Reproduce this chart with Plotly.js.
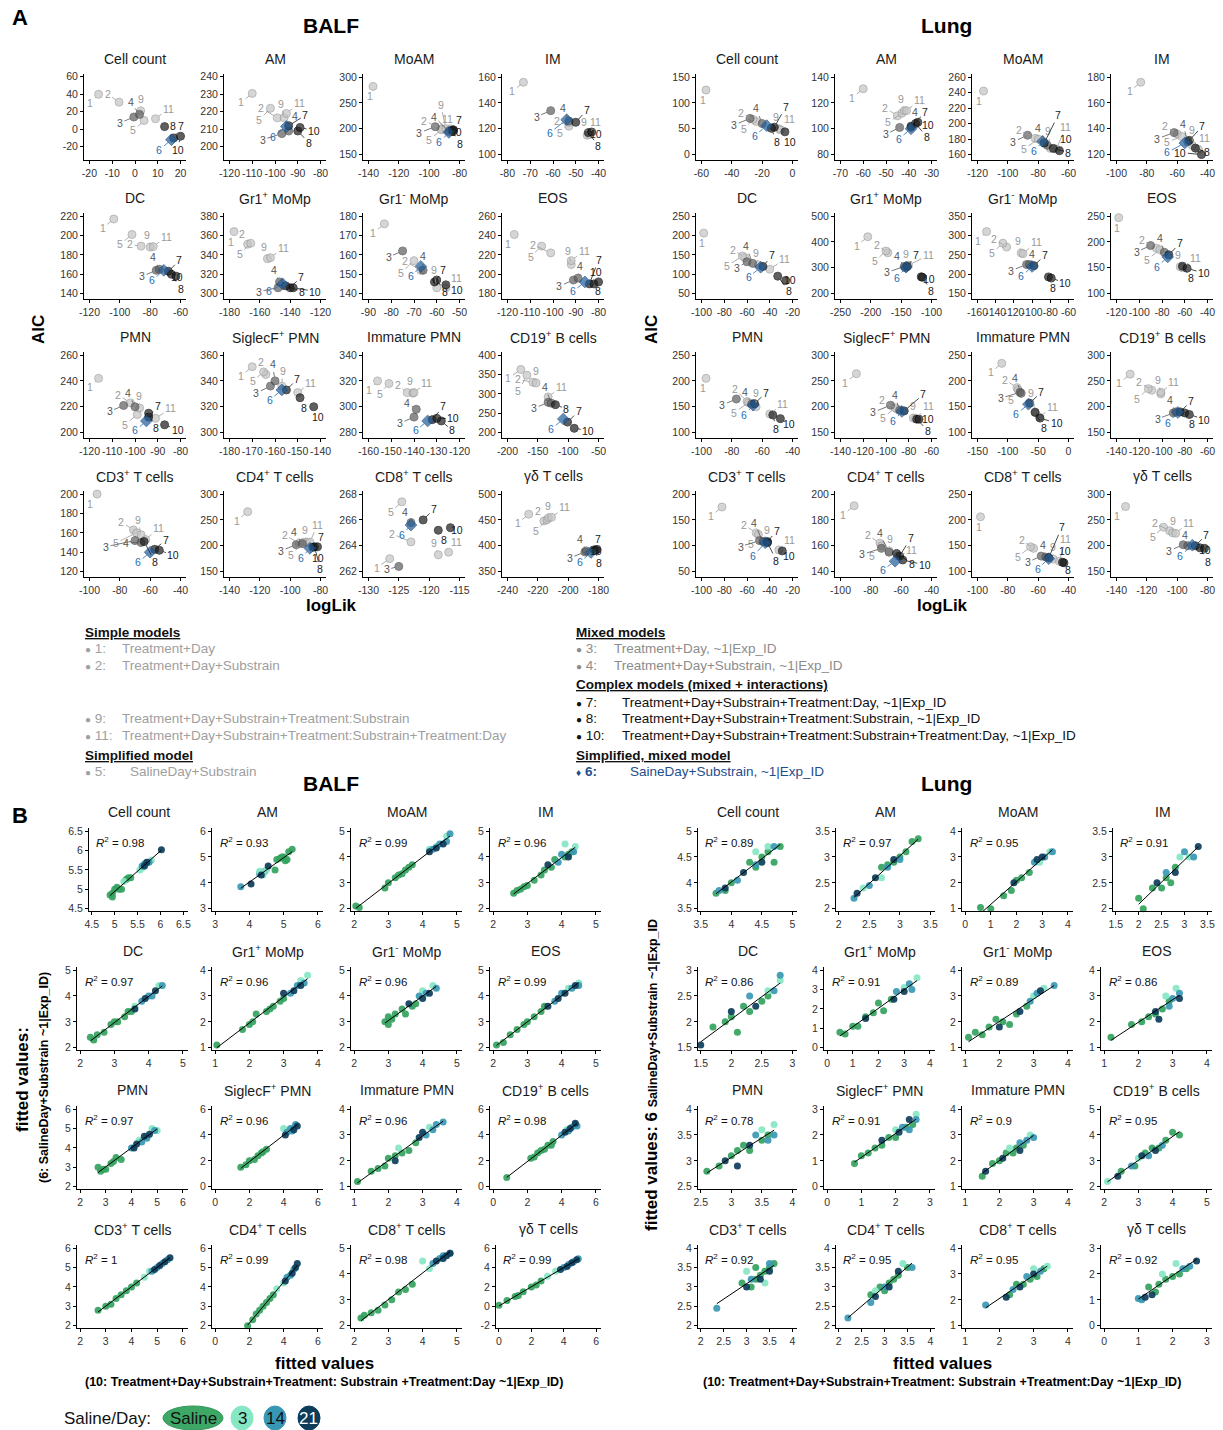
<!DOCTYPE html>
<html><head><meta charset="utf-8">
<script src="https://cdn.plot.ly/plotly-3.0.1.min.js"></script>
<style>body{margin:0;background:#fff}#fig{width:1223px;height:1430px}</style>
</head><body><div id="fig"></div>
<script>
// ---------------- DATA ----------------
const cellTypes = ["Cell count","AM","MoAM","IM","DC","Gr1<sup>+</sup> MoMp","Gr1<sup>-</sup> MoMp","EOS","PMN","SiglecF<sup>+</sup> PMN","Immature PMN","CD19<sup>+</sup> B cells","CD3<sup>+</sup> T cells","CD4<sup>+</sup> T cells","CD8<sup>+</sup> T cells","γδ T cells"];
const modelIds = [1,2,3,4,5,6,7,8,9,10,11];

// Panel A: logLik (x) and AIC (y), models 1..11
const balfLogLik = [
 [-16,-7,-0.5,2,4,16,17,13,2.5,20,9],
 [-110,-99,-97,-94,-102,-95,-94,-90,-96,-89,-95],
 [-137,-92,-96,-87,-92,-87,-84,-85,-89,-84,-86],
 [-73,-53,-61,-53,-53,-54,-50,-44.5,-45,-43,-44],
 [-104,-86,-76,-74,-92,-71,-68,-66,-80,-63,-78],
 [-177,-168,-148,-147,-166,-145,-140,-143,-155,-138,-153],
 [-83,-67,-75,-66,-70,-67,-61,-60,-60,-56,-56],
 [-117,-101,-91,-89,-105,-86,-84,-82,-92,-80,-92],
 [-116,-102,-105,-100,-99,-95,-94,-94,-98,-87,-91],
 [-170,-164,-162,-160,-165,-157,-155,-149,-157,-143,-150],
 [-156,-143,-140,-139,-151,-134,-132,-128,-140.5,-130,-140],
 [-178,-158,-133,-128,-168,-108,-101,-121,-153,-90,-133],
 [-95,-71,-70,-66,-69,-60,-57,-64,-66,-54,-63],
 [-128,-94,-96,-92,-91,-87,-85,-84,-89,-82,-87],
 [-126.5,-123,-125,-123,-124.5,-123,-121,-118.5,-118.5,-116.5,-116.8],
 [-226,-216,-189,-188,-214,-185,-183,-182,-213,-181,-211]
];
const balfAIC = [
 [40,31,14,17,10,-12,-10,3,21,-8,12],
 [230.5,216.5,207.5,209,222,211.5,212,209,216.5,211,219],
 [282,200,204,195,198,193,196,197,200,198,200],
 [156,122,134,126,125,127,125,117,115,117.5,115.5],
 [217,189,164,165,201,164,163,160,188,158,188.5],
 [364,351,306,312,352,310,306,308,336,306,337],
 [176,152,162,152,157,154,146,147,143,144.5,143],
 [241,222,194,196,229,192,190,190,210,192,214],
 [242,223,221,220,214,209,212,215,219,206,211],
 [351,345,336,340,347,333,333,327,336,320,331],
 [320,311,292,298,318,289,290,289,310.5,291,311],
 [363,330,278,276,348,235,227,272,328,211,292],
 [200,163,152,150,160,140,143,151,158,142,153],
 [266,205,202,204,207,195,197,198,207,198,207],
 [263,264.3,262.4,265.8,267.4,265.6,266,265.2,263.3,265.4,263.5],
 [461,448,388,390,450,387,392,391,454,393,455]
];
const lungLogLik = [
 [-57,-24,-28,-20,-26,-17,-12,-14,-9,-5,-8],
 [-60,-45,-44,-39,-43,-39,-39,-37,-42,-36,-41],
 [-116,-82,-87,-74,-80,-77,-76,-70,-72,-66,-68],
 [-84,-60,-62,-53,-57,-55,-52,-48,-50,-44,-46],
 [-98,-62,-60,-55,-64,-48,-46,-33,-50,-26,-40],
 [-205,-172,-145,-143,-175,-142,-140,-117,-140,-115,-138],
 [-150,-128,-106,-103,-132,-100,-98,-82,-112,-79,-110],
 [-118,-85,-90,-78,-82,-75,-74,-62,-64,-58,-62],
 [-97,-70,-77,-67,-69,-66,-65,-53,-64,-48,-55],
 [-126,-90,-96,-88,-92,-86,-84,-73,-76,-71,-74],
 [-110,-85,-80,-78,-83,-66,-64,-55,-55,-47,-48],
 [-128,-109,-90,-88,-112,-86,-84,-80,-101,-76,-101],
 [-82,-52,-49,-46,-50,-44,-42,-42,-45,-29,-32],
 [-91,-74,-73,-68,-73,-64,-61,-63,-68,-59,-62],
 [-98,-63,-58,-55,-65,-53,-53,-43,-50,-44,-46],
 [-134,-105,-96,-93,-109,-90,-88,-85,-103,-82,-101]
];
const lungAIC = [
 [125,64,70,60,68,56,53,51,50,44,48],
 [131,110,101,101,112,100,102,104,114,105,114],
 [242,181,185,172,180,177,175,168,168,165,167],
 [176,136,137,130,134,129,131,125,127,120,124],
 [206,143,132,128,147,118,120,95,124,84,113],
 [420,358,305,300,365,302,305,265,308,263,310],
 [310,270,225,225,280,220,222,193,255,190,253],
 [247,188,193,180,185,171,175,153,152,149,150],
 [205,160,165,155,158,153,156,134,150,127,136],
 [264,195,203,193,198,191,192,176,178,176,177],
 [234,187,178,176,183,155,157,139,140,128,130],
 [263,232,188,190,235,189,190,188,225,185,228],
 [175,125,110,108,122,106,108,106,108,90,92],
 [191,162,158,155,160,148,152,154,156,149,152],
 [206,145,130,128,148,125,127,117,124,118,120],
 [276,229,202,200,236,201,200,196,225,195,224]
];
// tick specs: [x0,x1,dx, y0,y1,dy]
const balfAxisTicks = [[-20,20,10,-20,60,20],[-120,-80,10,200,240,10],[-140,-80,20,150,300,50],[-80,-40,10,100,160,20],[-120,-60,20,140,220,20],[-180,-120,20,300,380,20],[-90,-50,10,140,180,10],[-120,-80,10,180,260,20],[-120,-80,10,200,260,20],[-180,-140,10,300,360,20],[-160,-120,10,280,340,20],[-200,-50,50,200,400,50],[-100,-40,20,120,200,20],[-140,-80,20,150,300,50],[-130,-115,5,262,268,2],[-240,-180,20,350,500,50]];
const lungAxisTicks = [[-60,0,20,0,150,50],[-70,-30,10,80,140,20],[-120,-60,20,160,260,20],[-100,-40,20,120,180,20],[-100,-20,20,50,250,50],[-250,-100,50,200,500,100],[-160,-60,20,150,350,50],[-120,-40,20,100,250,50],[-100,-40,20,100,250,50],[-140,-60,20,150,300,50],[-150,0,50,100,250,50],[-140,-60,20,150,300,50],[-100,-20,20,50,200,50],[-100,-40,20,140,200,20],[-100,-40,20,100,250,50],[-140,-80,20,150,300,50]];

// Panel B: [fitted model 10, fitted model 6, day group] (0 Saline, 1 day3, 2 day14, 3 day21)
const dayLabels = ["Saline","3","14","21"];
const balfFit = [
 [[4.9,4.85,0],[4.95,4.9,0],[5.0,5.0,0],[5.05,5.05,0],[5.1,5.0,0],[5.15,5.0,0],[5.25,5.25,0],[5.3,5.3,0],[5.35,5.3,0],[4.95,4.8,0],[5.2,5.2,1],[5.55,5.5,1],[5.6,5.55,1],[5.8,5.75,1],[5.6,5.6,2],[5.65,5.65,2],[5.75,5.7,2],[5.7,5.68,2],[5.7,5.7,3],[6.02,6.02,3],[5.65,5.6,3]],
 [[3.75,3.85,2],[4.05,3.95,3],[4.3,4.35,2],[4.4,4.4,2],[4.45,4.45,2],[4.3,4.45,1],[4.4,4.3,1],[4.5,4.5,1],[4.55,4.65,3],[4.35,4.3,3],[4.75,4.5,0],[4.8,4.9,0],[4.9,4.95,0],[5.0,5.0,0],[5.05,4.85,0],[5.15,5.2,0],[5.25,5.3,0],[4.95,5.0,0],[5.1,4.9,0]],
 [[2.05,2.1,0],[2.15,2.05,0],[2.9,2.8,0],[3.0,3.0,0],[3.2,3.2,0],[3.3,3.3,0],[3.4,3.35,0],[3.5,3.5,0],[3.6,3.6,0],[3.7,3.7,0],[4.2,4.3,1],[4.4,4.4,1],[4.7,4.8,1],[4.3,4.3,2],[4.5,4.5,2],[4.7,4.6,2],[4.8,4.9,2],[4.2,4.2,3],[4.4,4.35,3],[4.6,4.5,3]],
 [[2.6,2.6,0],[2.7,2.7,0],[2.8,2.75,0],[2.9,2.85,0],[3.0,2.9,0],[3.2,3.1,0],[3.4,3.3,0],[3.5,3.5,0],[3.7,3.6,0],[3.8,3.9,0],[4.1,4.0,0],[4.2,4.1,0],[4.3,4.2,0],[4.1,4.5,1],[4.4,4.4,1],[3.9,3.8,2],[4.0,4.1,2],[4.35,4.2,2],[3.6,3.7,3],[4.2,4.0,3]],
 [[2.3,2.4,0],[2.4,2.3,0],[2.5,2.5,0],[2.7,2.6,0],[2.9,2.9,0],[3.0,3.0,0],[3.1,3.0,0],[3.3,3.2,0],[3.4,3.4,0],[3.5,3.4,0],[3.6,3.6,1],[4.3,4.4,1],[3.8,3.8,2],[4.0,4.0,2],[4.4,4.4,2],[4.1,4.0,2],[3.6,3.5,3],[3.9,3.9,3],[4.2,4.2,3]],
 [[1.05,1.1,0],[1.8,1.7,0],[2.0,1.9,0],[2.1,2.0,0],[2.2,2.3,0],[2.5,2.4,0],[2.6,2.5,0],[2.7,2.6,0],[2.9,2.8,0],[3.0,2.9,0],[3.5,3.6,1],[3.7,3.8,1],[3.2,3.1,2],[3.4,3.4,2],[3.6,3.5,2],[3.0,3.1,3],[3.3,3.2,3],[3.5,3.4,3]],
 [[2.9,3.0,0],[3.0,2.9,0],[3.0,3.2,0],[3.1,3.1,0],[3.2,3.3,0],[3.4,3.5,0],[3.5,3.3,0],[3.7,3.6,0],[3.8,3.7,0],[4.0,4.2,1],[4.3,4.4,1],[3.9,4.0,2],[4.1,4.1,2],[4.4,4.3,2],[3.6,3.7,3],[4.0,3.9,3],[4.2,4.1,3]],
 [[2.1,2.1,0],[2.3,2.2,0],[2.5,2.5,0],[2.7,2.7,0],[2.9,2.9,0],[3.0,3.0,0],[3.2,3.2,0],[3.4,3.4,0],[3.5,3.6,0],[4.2,4.3,1],[4.5,4.5,1],[3.8,3.8,2],[4.0,4.1,2],[4.3,4.3,2],[4.5,4.4,2],[3.6,3.6,3],[3.9,3.9,3],[4.1,4.1,3],[4.4,4.4,3]],
 [[2.7,3.0,0],[2.8,2.8,0],[2.9,2.9,0],[3.0,2.9,0],[3.2,3.2,0],[3.3,3.3,0],[3.4,3.5,0],[3.6,3.4,0],[4.8,5.0,1],[5.0,4.9,1],[4.3,4.4,1],[4.0,4.0,2],[4.4,4.3,2],[4.6,4.5,2],[4.9,4.9,2],[4.2,4.2,3],[4.5,4.6,3],[4.7,4.7,3],[4.1,4.0,3]],
 [[1.5,1.5,0],[1.8,1.7,0],[2.0,2.0,0],[2.3,2.1,0],[2.5,2.4,0],[2.7,2.6,0],[3.0,2.9,0],[2.8,2.7,0],[4.0,4.5,1],[4.6,4.6,1],[4.2,4.2,2],[4.5,4.3,2],[4.7,4.8,2],[4.4,4.5,2],[4.1,4.0,3],[4.6,4.4,3],[4.8,4.7,3]],
 [[1.1,1.2,0],[1.5,1.6,0],[1.7,1.7,0],[1.9,1.8,0],[2.0,2.1,0],[2.2,2.2,0],[2.4,2.3,0],[2.6,2.4,0],[2.8,2.7,0],[2.3,2.5,1],[3.2,3.3,1],[3.1,3.0,2],[3.3,3.2,2],[3.4,3.4,2],[3.6,3.5,2],[2.2,2.0,3],[2.9,2.9,3],[3.0,3.1,3]],
 [[0.8,0.7,0],[2.2,2.2,0],[2.4,2.3,0],[2.6,2.6,0],[2.8,2.8,0],[3.0,2.9,0],[3.2,3.2,0],[3.5,3.5,0],[3.4,3.2,0],[4.3,4.4,1],[4.0,4.0,2],[4.4,4.3,2],[4.6,4.6,2],[4.8,4.8,2],[4.9,4.7,2],[4.2,4.2,3],[4.5,4.5,3],[4.8,4.9,3]],
 [[2.7,2.8,0],[3.0,3.0,0],[3.2,3.1,0],[3.4,3.4,0],[3.6,3.6,0],[3.8,3.8,0],[4.0,4.0,0],[4.2,4.2,0],[4.5,4.5,1],[4.7,4.8,1],[4.8,4.8,2],[5.0,5.0,2],[5.2,5.2,2],[5.4,5.4,2],[5.1,5.1,3],[5.3,5.3,3],[5.5,5.5,3],[4.9,4.9,3]],
 [[1.9,2.0,0],[2.2,2.3,0],[2.4,2.6,0],[2.6,2.8,0],[2.8,3.0,0],[3.0,3.2,0],[3.2,3.4,0],[3.4,3.6,0],[3.6,3.9,1],[4.0,4.2,1],[4.2,4.5,2],[4.4,4.6,2],[4.6,4.9,2],[4.1,4.3,3],[4.5,4.7,3],[4.8,5.2,3],[4.7,5.0,3]],
 [[2.2,2.3,0],[2.3,2.4,0],[2.5,2.5,0],[2.7,2.6,0],[2.9,2.8,0],[3.1,3.0,0],[3.3,3.3,0],[3.5,3.4,0],[3.7,3.6,0],[4.0,4.5,1],[4.2,4.2,1],[4.3,4.4,2],[4.5,4.6,2],[4.6,4.7,2],[4.8,4.8,2],[4.4,4.5,3],[4.6,4.6,3],[4.8,4.8,3],[4.7,4.7,3]],
 [[0,0.1,0],[0.5,0.6,0],[1.0,1.0,0],[1.2,1.1,0],[1.5,1.5,0],[2.0,2.0,0],[2.3,2.2,0],[2.6,2.6,0],[3.0,3.1,1],[3.5,3.6,1],[4.0,4.0,2],[4.3,4.3,2],[4.6,4.6,2],[4.9,4.9,2],[3.8,3.8,3],[4.2,4.1,3],[4.5,4.5,3],[4.8,4.8,3]]
];
const lungFit = [
 [[3.75,3.8,0],[3.9,3.85,0],[4.0,4.0,0],[4.3,4.4,0],[4.4,4.3,0],[4.5,4.5,0],[4.6,4.6,0],[4.7,4.4,0],[4.8,4.7,0],[4.4,4.6,1],[4.6,4.7,1],[3.8,3.85,2],[4.1,4.05,2],[4.4,4.35,2],[4.7,4.7,2],[3.9,3.9,3],[4.2,4.2,3],[4.5,4.4,3]],
 [[2.7,2.8,0],[2.8,2.85,0],[2.9,2.9,0],[3.0,3.0,0],[3.1,3.1,0],[3.2,3.3,0],[3.3,3.35,0],[2.4,2.4,1],[2.7,2.6,1],[2.25,2.2,2],[2.5,2.45,2],[2.8,2.8,2],[3.0,2.95,2],[2.3,2.3,3],[2.6,2.6,3],[2.9,2.95,3]],
 [[0.6,1.05,0],[1.0,1.0,0],[1.5,1.5,0],[1.8,1.7,0],[2.0,2.1,0],[2.2,2.2,0],[2.5,2.4,0],[2.9,2.8,1],[3.3,3.2,1],[2.7,2.8,2],[3.1,3.0,2],[3.4,3.2,2],[1.9,2.0,3],[2.8,2.9,3],[3.0,3.0,3]],
 [[2.0,2.2,0],[2.1,2.0,0],[2.3,2.4,0],[2.5,2.4,0],[2.6,2.6,0],[2.7,2.5,0],[2.8,2.8,0],[2.9,3.0,1],[3.1,3.0,1],[2.6,2.7,2],[3.0,3.1,2],[3.2,3.0,2],[2.4,2.5,3],[2.8,2.7,3],[3.3,3.2,3]],
 [[1.7,1.9,0],[1.9,2.0,0],[2.0,2.1,0],[2.1,1.8,0],[2.2,2.3,0],[2.3,2.2,0],[2.5,2.4,0],[2.6,2.5,0],[2.8,2.8,1],[2.6,2.6,1],[2.3,2.5,2],[2.7,2.6,2],[2.8,2.9,2],[1.5,1.55,3],[2.4,2.3,3],[2.0,2.2,3]],
 [[0.5,0.8,0],[0.7,0.7,0],[1.0,1.1,0],[1.2,1.1,0],[1.5,1.6,0],[1.8,1.8,0],[2.0,2.3,0],[2.2,1.9,0],[2.5,2.5,0],[3.0,3.1,1],[3.5,3.6,1],[2.7,2.9,2],[3.2,3.3,2],[3.3,3.0,2],[1.5,1.5,3],[2.6,2.5,3],[3.0,2.9,3]],
 [[1.1,1.4,0],[1.3,1.6,0],[1.5,1.5,0],[1.7,1.8,0],[1.9,2.1,0],[2.1,2.0,0],[2.3,1.9,0],[2.5,2.3,0],[2.8,2.6,0],[3.0,3.0,1],[3.3,3.3,1],[2.9,2.8,2],[3.1,3.1,2],[3.6,3.4,2],[2.0,1.8,3],[2.6,2.4,3],[3.2,3.2,3]],
 [[1.2,1.4,0],[1.8,1.9,0],[2.1,2.0,0],[2.3,2.2,0],[2.5,2.3,0],[2.7,2.5,0],[2.9,2.8,0],[2.8,3.0,1],[3.1,3.3,1],[2.9,2.6,2],[3.0,2.9,2],[3.2,3.1,2],[2.5,2.4,3],[2.6,2.1,3],[3.2,2.9,3]],
 [[2.6,2.8,0],[2.8,2.9,0],[3.0,3.1,0],[3.1,3.2,0],[3.2,3.3,0],[3.3,3.2,0],[3.5,3.4,0],[3.6,3.5,0],[3.7,3.7,1],[3.5,3.6,1],[3.4,3.5,2],[3.6,3.4,2],[3.7,3.5,2],[2.9,3.0,3],[3.1,2.9,3],[3.3,3.3,3]],
 [[0.8,0.9,0],[1.0,1.2,0],[1.2,1.3,0],[1.4,1.5,0],[1.6,1.6,0],[1.8,1.9,0],[2.0,1.9,0],[2.3,2.3,0],[2.5,2.4,0],[2.6,2.8,1],[2.0,2.2,1],[2.2,2.3,2],[2.4,2.2,2],[2.6,2.6,2],[1.6,1.8,3],[2.1,2.1,3],[2.4,2.6,3]],
 [[1.5,1.4,0],[1.8,1.9,0],[2.0,2.0,0],[2.2,2.3,0],[2.4,2.3,0],[2.5,2.5,0],[2.7,2.6,0],[2.9,3.0,1],[2.3,2.5,1],[2.6,2.7,2],[2.8,2.8,2],[3.0,2.9,2],[1.6,1.6,3],[2.1,2.1,3],[2.6,2.4,3]],
 [[2.5,2.6,0],[2.9,2.8,0],[3.2,3.3,0],[3.4,3.5,0],[3.6,3.5,0],[3.8,3.8,0],[4.0,4.1,0],[4.2,4.0,0],[2.1,2.2,1],[3.0,3.1,1],[2.8,2.8,2],[3.3,3.2,2],[3.7,3.6,2],[2.4,2.4,3],[3.1,3.2,3],[3.5,3.4,3]],
 [[2.9,3.1,0],[3.1,3.0,0],[3.2,3.2,0],[3.3,3.3,0],[3.4,3.4,0],[3.5,3.5,0],[3.6,3.6,0],[3.2,3.5,0],[3.0,3.4,1],[3.4,3.1,1],[2.35,2.45,2],[3.1,3.2,2],[3.5,3.6,2],[3.0,3.0,3],[3.3,3.2,3],[3.5,3.4,3]],
 [[2.7,2.8,0],[2.9,3.0,0],[3.0,2.9,0],[3.1,3.1,0],[3.2,3.2,0],[3.3,3.3,0],[3.5,3.5,0],[2.8,2.9,1],[3.4,3.6,1],[2.2,2.2,2],[2.7,2.6,2],[3.0,3.0,2],[3.6,3.5,2],[2.8,2.75,3],[3.1,3.0,3],[3.3,3.4,3]],
 [[2.3,2.2,0],[2.5,2.6,0],[2.7,2.6,0],[2.9,2.8,0],[3.1,2.9,0],[3.3,3.2,0],[3.4,3.3,1],[3.0,3.2,1],[1.6,1.8,2],[2.4,2.4,2],[2.8,2.9,2],[3.2,3.1,2],[2.2,2.1,3],[2.6,2.5,3],[3.0,3.0,3]],
 [[1.3,1.5,0],[1.5,1.3,0],[1.6,1.6,0],[1.8,1.8,0],[2.0,1.9,0],[2.2,2.0,0],[2.4,2.2,0],[1.7,2.0,1],[2.1,2.4,1],[1.0,1.05,2],[1.1,1.0,2],[2.3,2.2,2],[2.5,2.3,2],[1.2,1.1,3],[1.4,1.2,3],[2.7,2.5,3]]
];
const balfR2 = ["0.98","0.93","0.99","0.96","0.97","0.96","0.96","0.99","0.97","0.96","0.96","0.98","1","0.99","0.98","0.99"];
const lungR2 = ["0.89","0.97","0.95","0.91","0.86","0.91","0.89","0.86","0.78","0.91","0.9","0.95","0.92","0.95","0.95","0.92"];
const balfFitTicks = [[4.5,6.5,0.5,4.5,6.5,0.5],[3,6,1,3,6,1],[2,5,1,2,5,1],[2,5,1,2,5,1],[2,5,1,2,5,1],[1,4,1,1,4,1],[2,5,1,2,5,1],[2,5,1,2,5,1],[2,6,1,2,6,1],[0,6,2,0,6,2],[1,4,1,1,4,1],[0,6,2,0,6,2],[2,6,1,2,6,1],[0,6,2,2,6,1],[2,5,1,2,5,1],[0,6,2,-2,6,2]];
const lungFitTicks = [[3.5,5,0.5,3.5,5,0.5],[2,3.5,0.5,2,3.5,0.5],[0,4,1,1,4,1],[1.5,3.5,0.5,2,3.5,0.5],[1.5,3,0.5,1.5,3,0.5],[0,4,1,0,4,1],[1,4,1,1,4,1],[1,4,1,1,4,1],[2.5,4,0.5,2.5,4,0.5],[0,3,1,0,3,1],[1,4,1,1,4,1],[2,5,1,2,5,1],[2,4,0.5,2,4,0.5],[2,4,0.5,2,4,0.5],[1,4,1,1,4,1],[0,3,1,0,3,1]];

// ---------------- STYLE / LAYOUT ----------------
const W = 1223, H = 1430;
const FONT = '"Liberation Sans", Arial, Helvetica, sans-serif';
const modelStyle = {
  simple:  {fill:'#c4c4c4', line:'#9c9c9c', text:'#999999', sym:'circle', size:8},
  mixed:   {fill:'#5d5d5d', line:'#474747', text:'#555555', sym:'circle', size:8},
  complex: {fill:'#1c1c1c', line:'#000000', text:'#1a1a1a', sym:'circle', size:8},
  best:    {fill:'#1f5c99', line:'#174a80', text:'#2a6cb0', sym:'diamond', size:9}
};
const modelClass = {1:'simple',2:'simple',5:'simple',9:'simple',11:'simple',3:'mixed',4:'mixed',7:'complex',8:'complex',10:'complex',6:'best'};
const drawOrder = [1,2,5,9,11,3,4,7,8,10,6];
const labelOffset = {1:[-11,9],2:[-12,-8],3:[-14,6],4:[-6,-12],5:[-11,10],6:[-12,10],7:[11,-11],8:[11,10],9:[-3,-12],10:[14,5],11:[13,-10]};
const dayColors = ['#33a35e','#86e7c4','#3898b4','#0e3d5b'];

const data = [], annotations = [], shapes = [];
const layout = {width:W, height:H, margin:{l:0,r:0,t:0,b:0}, paper_bgcolor:'#fff', plot_bgcolor:'#fff', showlegend:false, font:{family:FONT}};

function ticksFrom(t0,t1,d){const v=[];for(let k=0;;k++){const x=+(t0+k*d).toFixed(6);if(x>t1+1e-9)break;v.push(x);}return v;}
let nAx = 0;
function makeAxes(left, top, w, h, t, padX, padY){
  nAx++;
  const s = nAx===1 ? '' : String(nAx);
  const xv = ticksFrom(t[0],t[1],t[2]), yv = ticksFrom(t[3],t[4],t[5]);
  const sx = t[1]-t[0], sy = t[4]-t[3];
  const common = {showline:true, linecolor:'#000', linewidth:1, ticks:'outside', ticklen:3, tickwidth:1, tickcolor:'#000',
    showgrid:false, zeroline:false, tickfont:{family:FONT,size:10.5,color:'#333'}, tickmode:'array', tickangle:0, fixedrange:true};
  const xr = [t[0]-padX[0]*sx, t[1]+padX[1]*sx], yr = [t[3]-padY[0]*sy, t[4]+padY[1]*sy];
  layout['xaxis'+s] = Object.assign({}, common, {domain:[left/W,(left+w)/W], anchor:'y'+s,
    range:xr, tickvals:xv, ticktext:xv.map(String)});
  layout['yaxis'+s] = Object.assign({}, common, {domain:[1-(top+h)/H, 1-top/H], anchor:'x'+s,
    range:yr, tickvals:yv, ticktext:yv.map(String)});
  return {xa:'x'+s, ya:'y'+s, xr:xr, yr:yr};
}
function txt(px, py, text, size, opts){
  annotations.push(Object.assign({xref:'paper', yref:'paper', x:px/W, y:1-py/H, text:text, showarrow:false,
    xanchor:'center', yanchor:'middle', font:{family:FONT, size:size, color:'#111'}}, opts||{}));
}
// simple label repulsion (like ggrepel) in pixel space
function repel(anchors, prefs, texts, box){
  const L = anchors.map((a,i)=>({x:a[0]+prefs[i][0], y:a[1]+prefs[i][1], w:6*texts[i].length+3, h:11}));
  const clamp = l => {
    l.x = Math.min(Math.max(l.x, box[0]+l.w/2), box[1]-l.w/2);
    l.y = Math.min(Math.max(l.y, box[2]+l.h/2), box[3]-l.h/2);
  };
  L.forEach(clamp);
  for (let it=0; it<300; it++){
    for (let i=0;i<L.length;i++){
      for (let j=i+1;j<L.length;j++){
        const dx=L[j].x-L[i].x, dy=L[j].y-L[i].y;
        const ox=(L[i].w+L[j].w)/2+1-Math.abs(dx), oy=(L[i].h+L[j].h)/2+1-Math.abs(dy);
        if (ox>0 && oy>0){
          if (ox < oy){ const s=(dx>0?1:(dx<0?-1:(i%2?1:-1)))*ox*0.5; L[i].x-=s; L[j].x+=s; }
          else { const s=(dy>0?1:(dy<0?-1:(i%2?1:-1)))*oy*0.5; L[i].y-=s; L[j].y+=s; }
        }
      }
      for (let k=0;k<anchors.length;k++){
        const dx=L[i].x-anchors[k][0], dy=L[i].y-anchors[k][1];
        const ox=L[i].w/2+4.5-Math.abs(dx), oy=L[i].h/2+4.5-Math.abs(dy);
        if (ox>0 && oy>0){
          if (ox < oy) L[i].x += (dx>=0?1:-1)*ox*0.6; else L[i].y += (dy>=0?1:-1)*oy*0.6;
        }
      }
      clamp(L[i]);
    }
  }
  return L;
}

// ---------- Panel A ----------
const aLeft = [[84,224,363,502],[696,835,972,1111]];
const aTop = [74,213,352,491];
const aW = 102, aH = 86;
[[balfLogLik, balfAIC, balfAxisTicks],[lungLogLik, lungAIC, lungAxisTicks]].forEach((tis, T) => {
  for (let i = 0; i < 16; i++) {
    const r = Math.floor(i/4), c = i%4;
    const left = aLeft[T][c], top = aTop[r];
    let padY = [0.07, 0.04];
    if (T===0 && (i===0 || i===1)) padY = [0.19, 0.04];
    const ax = makeAxes(left, top, aW, aH, tis[2][i], [0.06,0.06], padY);
    const xs = [], ys = [], fills = [], lines = [], syms = [], sizes = [];
    drawOrder.forEach(m => {
      const k = modelIds.indexOf(m), st = modelStyle[modelClass[m]];
      xs.push(tis[0][i][k]); ys.push(tis[1][i][k]);
      fills.push(st.fill); lines.push(st.line); syms.push(st.sym); sizes.push(st.size);
    });
    data.push({type:'scatter', mode:'markers', x:xs, y:ys, xaxis:ax.xa, yaxis:ax.ya, hoverinfo:'skip', cliponaxis:false,
      marker:{color:fills, symbol:syms, size:sizes, line:{color:lines, width:1}}});
    const toPx = (vx,vy) => [left + (vx-ax.xr[0])/(ax.xr[1]-ax.xr[0])*aW, top + (1-(vy-ax.yr[0])/(ax.yr[1]-ax.yr[0]))*aH];
    const anchors = xs.map((v,q)=>toPx(v, ys[q]));
    const labs = repel(anchors, drawOrder.map(m=>labelOffset[m]), drawOrder.map(String), [left+2, left+aW-1, top+1, top+aH-2]);
    drawOrder.forEach((m,q) => {
      const st = modelStyle[modelClass[m]];
      annotations.push({xref:ax.xa, yref:ax.ya, x:xs[q], y:ys[q], text:String(m),
        showarrow:true, arrowhead:0, arrowwidth:0.8, arrowcolor:st.text,
        ax:labs[q].x-anchors[q][0], ay:labs[q].y-anchors[q][1], standoff:4,
        font:{family:FONT, size:10.5, color:st.text}});
    });
    txt(left + aW/2, top - 15, cellTypes[i], 14, {font:{family:FONT,size:14,color:'#1a1a1a'}});
  }
});

// ---------- Panel B ----------
const bRight = [[188,323,462,601],[797,935,1073,1212]];
const bTop = [828,967,1106,1245];
const bH = 83;
[[balfFit, balfFitTicks, balfR2],[lungFit, lungFitTicks, lungR2]].forEach((tis, T) => {
  for (let i = 0; i < 16; i++) {
    const r = Math.floor(i/4), c = i%4;
    const t = tis[1][i];
    const yl = Math.max(...ticksFrom(t[3],t[4],t[5]).map(v => String(v).length));
    const w = 111 - 6*(yl-1);
    const right = bRight[T][c], left = right - w, top = bTop[r];
    const ax = makeAxes(left, top, w, bH, t, [0.03,0.05], [0.03,0.04]);
    const pts = tis[0][i];
    const px = pts.map(p=>p[0]), py = pts.map(p=>p[1]);
    data.push({type:'scatter', mode:'markers', x:px, y:py, xaxis:ax.xa, yaxis:ax.ya, hoverinfo:'skip', cliponaxis:false,
      marker:{size:7, color:pts.map(p=>dayColors[p[2]]), opacity:0.92}});
    // least-squares line through the points
    const n = px.length, mx = px.reduce((a,b)=>a+b,0)/n, my = py.reduce((a,b)=>a+b,0)/n;
    let sxy = 0, sxx = 0;
    for (let j=0;j<n;j++){ sxy += (px[j]-mx)*(py[j]-my); sxx += (px[j]-mx)*(px[j]-mx); }
    const b = sxy/sxx, a0 = my - b*mx;
    const x0 = Math.min(...px), x1 = Math.max(...px);
    data.push({type:'scatter', mode:'lines', x:[x0,x1], y:[a0+b*x0, a0+b*x1], xaxis:ax.xa, yaxis:ax.ya,
      hoverinfo:'skip', line:{color:'#000', width:1}});
    annotations.push({xref:ax.xa+' domain', yref:ax.ya+' domain', x:0.05, y:0.83, xanchor:'left', yanchor:'middle',
      showarrow:false, text:'<i>R</i><sup>2</sup> = '+tis[2][i], font:{family:FONT,size:11.5,color:'#111'}});
    txt(left + w/2, top - 16, cellTypes[i], 14, {font:{family:FONT,size:14,color:'#1a1a1a'}});
  }
});

// ---------- Headings and axis titles ----------
const B = {family:FONT, color:'#000'};
txt(20, 18, '<b>A</b>', 22, {font:Object.assign({size:22},B)});
txt(331, 25, '<b>BALF</b>', 21, {font:Object.assign({size:21},B)});
txt(946, 25, '<b>Lung</b>', 21, {font:Object.assign({size:21},B)});
txt(38, 330, '<b>AIC</b>', 17, {textangle:-90, font:Object.assign({size:17},B)});
txt(651, 330, '<b>AIC</b>', 17, {textangle:-90, font:Object.assign({size:17},B)});
txt(331, 605, '<b>logLik</b>', 17, {font:Object.assign({size:17},B)});
txt(942, 605, '<b>logLik</b>', 17, {font:Object.assign({size:17},B)});

txt(20, 815, '<b>B</b>', 22, {font:Object.assign({size:22},B)});
txt(331, 783, '<b>BALF</b>', 21, {font:Object.assign({size:21},B)});
txt(946, 783, '<b>Lung</b>', 21, {font:Object.assign({size:21},B)});
txt(324, 1363, '<b>fitted values</b>', 17, {font:Object.assign({size:17},B)});
txt(942, 1363, '<b>fitted values</b>', 17, {font:Object.assign({size:17},B)});
const sub = '<b>(10: Treatment+Day+Substrain+Treatment: Substrain +Treatment:Day ~1|Exp_ID)</b>';
txt(324, 1382, sub, 12.5, {font:Object.assign({size:12.5},B)});
txt(942, 1382, sub, 12.5, {font:Object.assign({size:12.5},B)});
txt(22, 1080, '<b>fitted values:</b>', 17, {textangle:-90, font:Object.assign({size:17},B)});
txt(44, 1078, '<b>(6: SalineDay+Substrain ~1|Exp_ID)</b>', 12.5, {textangle:-90, font:Object.assign({size:12.5},B)});
txt(651, 1075, '<b>fitted values: 6 <span style="font-size:12.5px">SalineDay+Substrain ~1|Exp_ID</span></b>', 17, {textangle:-90, font:Object.assign({size:17},B)});

// ---------- Model legend ----------
const gS = '#a0a0a0', gM = '#8c8c8c', kC = '#111111', bl = '#1f4e8c';
function head(x, y, t){ txt(x, y, '<b><u>'+t+'</u></b>', 13.5, {xanchor:'left', font:{family:FONT,size:13.5,color:'#111'}}); }
function item(x, y, sym, num, xt, t, col, bold){
  txt(x, y, '<span style="font-size:10px">'+sym+'</span> '+(bold?'<b>'+num+'</b>':num), 13.5, {xanchor:'left', font:{family:FONT,size:13.5,color:col}});
  txt(xt, y, t, 13.5, {xanchor:'left', font:{family:FONT,size:13.5,color:col}});
}
head(83, 632, 'Simple models');
item(83, 649, '●', '1:', 120, 'Treatment+Day', gS);
item(83, 665, '●', '2:', 120, 'Treatment+Day+Substrain', gS);
item(83, 718, '●', '9:', 120, 'Treatment+Day+Substrain+Treatment:Substrain', gS);
item(83, 735, '●', '11:', 120, 'Treatment+Day+Substrain+Treatment:Substrain+Treatment:Day', gS);
head(83, 755, 'Simplified model');
item(83, 772, '●', '5:', 128, 'SalineDay+Substrain', gS);
head(574, 632, 'Mixed models');
item(574, 649, '●', '3:', 612, 'Treatment+Day, ~1|Exp_ID', gM);
item(574, 665, '●', '4:', 612, 'Treatment+Day+Substrain, ~1|Exp_ID', gM);
head(574, 685, 'Complex models (mixed + interactions)');
item(574, 702, '●', '7:', 620, 'Treatment+Day+Substrain+Treatment:Day, ~1|Exp_ID', kC);
item(574, 718, '●', '8:', 620, 'Treatment+Day+Substrain+Treatment:Substrain, ~1|Exp_ID', kC);
item(574, 735, '●', '10:', 620, 'Treatment+Day+Substrain+Treatment:Substrain+Treatment:Day, ~1|Exp_ID', kC);
head(574, 755, 'Simplified, mixed model');
item(574, 772, '♦', '6:', 628, 'SaineDay+Substrain, ~1|Exp_ID', bl, true);

// ---------- Day legend ----------
txt(62, 1418, 'Saline/Day:', 17, {xanchor:'left', font:{family:FONT,size:17,color:'#111'}});
const keyPos = [[163,223],[231,253],[264,286],[298,320]];
const keyText = ['#111','#111','#111','#fff'];
dayLabels.forEach((d, k) => {
  shapes.push({type:'circle', xref:'paper', yref:'paper', x0:keyPos[k][0]/W, x1:keyPos[k][1]/W,
    y0:1-1430/H, y1:1-1406/H, fillcolor:dayColors[k], line:{color:k===0?'#2a8f50':dayColors[k], width:1}, opacity:k===0?0.95:1});
  txt((keyPos[k][0]+keyPos[k][1])/2, 1418, d, 17, {font:{family:FONT,size:17,color:keyText[k]}});
});

layout.annotations = annotations;
layout.shapes = shapes;
Plotly.newPlot('fig', data, layout, {displayModeBar:false, staticPlot:true});
</script>
</body></html>
